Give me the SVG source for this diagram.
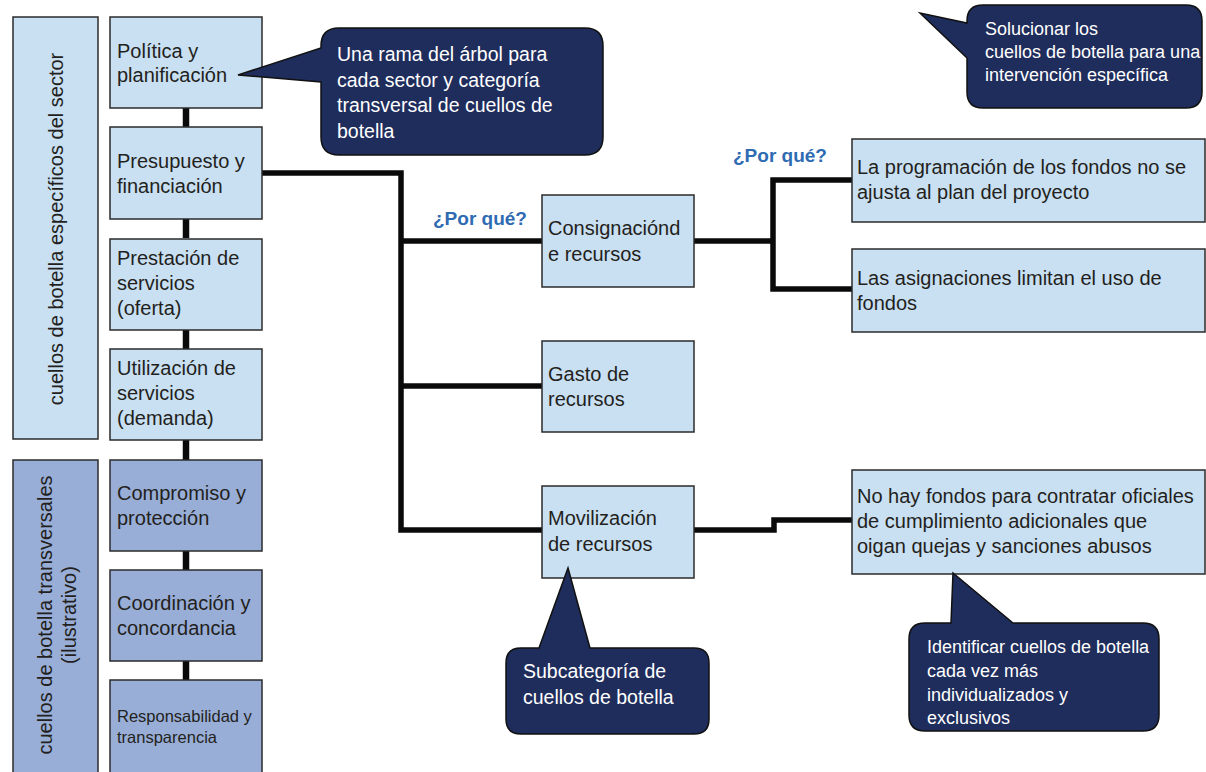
<svg xmlns="http://www.w3.org/2000/svg" width="1206" height="772" viewBox="0 0 1206 772">
<style>
.lb{fill:#c9dff2;stroke:#2b2b2b;stroke-width:1.5}
.db{fill:#98aed7;stroke:#2b2b2b;stroke-width:1.5}
.co{fill:#1f2d5c;stroke:#111;stroke-width:1.5}
.t{font-family:"Liberation Sans",Arial,sans-serif;font-size:20px;fill:#231f20}
.w{font-family:"Liberation Sans",Arial,sans-serif;font-size:18px;fill:#ffffff}
.q{font-family:"Liberation Sans",Arial,sans-serif;font-size:19px;font-weight:bold;fill:#2e6bb3}
.ln{fill:none;stroke:#0a0a0a;stroke-width:5.5;stroke-linejoin:miter}
.cl{fill:none;stroke:#0a0a0a;stroke-width:6.5}
</style>
<rect width="1206" height="772" fill="#ffffff"/>

<g id="connectors">
<line class="cl" x1="186" y1="108" x2="186" y2="127"/>
<line class="cl" x1="186" y1="219" x2="186" y2="238"/>
<line class="cl" x1="186" y1="330" x2="186" y2="349"/>
<line class="cl" x1="186" y1="440" x2="186" y2="460"/>
<line class="cl" x1="186" y1="551" x2="186" y2="570"/>
<line class="cl" x1="186" y1="661" x2="186" y2="680"/>
<polyline class="ln" points="262,173 401,173 401,530 542,530"/>
<line class="ln" x1="401" y1="241" x2="542" y2="241"/>
<line class="ln" x1="401" y1="386" x2="542" y2="386"/>
<line class="ln" x1="694" y1="241" x2="773" y2="241"/>
<polyline class="ln" points="852,180 773,180 773,289 852,289"/>
<polyline class="ln" points="694,530 774,530 774,520 852,520"/>
</g>

<g id="grp-sector">
<rect class="lb" x="13" y="17" width="85" height="422"/>
<text class="t" transform="translate(63,229) rotate(-90)" text-anchor="middle">cuellos de botella específicos del sector</text>
</g>
<g id="grp-transversal">
<rect class="db" x="13" y="460" width="85" height="330"/>
<text class="t" transform="translate(52,615) rotate(-90)" text-anchor="middle">cuellos de botella transversales</text>
<text class="t" transform="translate(76,615) rotate(-90)" text-anchor="middle">(ilustrativo)</text>
</g>

<g id="n-politica">
<rect class="lb" x="110" y="17" width="152" height="91"/>
<text class="t" x="117" y="58">Política y</text>
<text class="t" x="117" y="82">planificación</text>
</g>
<g id="n-presupuesto">
<rect class="lb" x="110" y="127" width="152" height="92"/>
<text class="t" x="117" y="168">Presupuesto y</text>
<text class="t" x="117" y="193">financiación</text>
</g>
<g id="n-prestacion">
<rect class="lb" x="110" y="239" width="152" height="91"/>
<text class="t" x="117" y="265">Prestación de</text>
<text class="t" x="117" y="290">servicios</text>
<text class="t" x="117" y="315">(oferta)</text>
</g>
<g id="n-utilizacion">
<rect class="lb" x="110" y="349" width="152" height="91"/>
<text class="t" x="117" y="375">Utilización de</text>
<text class="t" x="117" y="400">servicios</text>
<text class="t" x="117" y="425">(demanda)</text>
</g>
<g id="n-compromiso">
<rect class="db" x="110" y="460" width="152" height="91"/>
<text class="t" x="117" y="500">Compromiso y</text>
<text class="t" x="117" y="525">protección</text>
</g>
<g id="n-coordinacion">
<rect class="db" x="110" y="570" width="152" height="91"/>
<text class="t" x="117" y="610">Coordinación y</text>
<text class="t" x="117" y="635">concordancia</text>
</g>
<g id="n-responsabilidad">
<rect class="db" x="110" y="680" width="152" height="110"/>
<text class="t" x="117" y="722" style="font-size:16.5px">Responsabilidad y</text>
<text class="t" x="117" y="743" style="font-size:16.5px">transparencia</text>
</g>

<g id="n-consignacion">
<rect class="lb" x="542" y="195" width="152" height="92"/>
<text class="t" x="548" y="235">Consignaciónd</text>
<text class="t" x="548" y="261">e recursos</text>
</g>
<g id="n-gasto">
<rect class="lb" x="542" y="341" width="152" height="91"/>
<text class="t" x="548" y="381">Gasto de</text>
<text class="t" x="548" y="406">recursos</text>
</g>
<g id="n-movilizacion">
<rect class="lb" x="542" y="486" width="152" height="92"/>
<text class="t" x="548" y="525">Movilización</text>
<text class="t" x="548" y="551">de recursos</text>
</g>

<g id="n-programacion">
<rect class="lb" x="852" y="139" width="353" height="83"/>
<text class="t" x="857" y="174">La programación de los fondos no se</text>
<text class="t" x="857" y="199">ajusta al plan del proyecto</text>
</g>
<g id="n-asignaciones">
<rect class="lb" x="852" y="249" width="353" height="83"/>
<text class="t" x="857" y="285">Las asignaciones limitan el uso de</text>
<text class="t" x="857" y="310">fondos</text>
</g>
<g id="n-nohay">
<rect class="lb" x="852" y="470" width="353" height="104"/>
<text class="t" x="857" y="503">No hay fondos para contratar oficiales</text>
<text class="t" x="857" y="528">de cumplimiento adicionales que</text>
<text class="t" x="857" y="553">oigan quejas y sanciones abusos</text>
</g>

<g id="labels">
<text class="q" x="433" y="225">¿Por qué?</text>
<text class="q" x="733" y="162">¿Por qué?</text>
</g>

<g id="callout-rama">
<path class="co" d="M339,28 H585 Q603,28 603,46 V137 Q603,155 585,155 H339 Q321,155 321,137 V82 L238,75 L321,48 V46 Q321,28 339,28 Z"/>
<text class="w" style="font-size:19.5px" x="337" y="61">Una rama del árbol para</text>
<text class="w" style="font-size:19.5px" x="337" y="87">cada sector y categoría</text>
<text class="w" style="font-size:19.5px" x="337" y="112">transversal de cuellos de</text>
<text class="w" style="font-size:19.5px" x="337" y="138">botella</text>
</g>
<g id="callout-solucionar">
<path class="co" d="M983,5 H1186 Q1202,5 1202,21 V92 Q1202,108 1186,108 H983 Q967,108 967,92 V58 L920,13 L967,23 V21 Q967,5 983,5 Z"/>
<text class="w" x="985" y="35">Solucionar los</text>
<text class="w" x="985" y="58">cuellos de botella para una</text>
<text class="w" x="985" y="81">intervención específica</text>
</g>
<g id="callout-subcategoria">
<path class="co" d="M521,648 H539 L568,568 L590,648 H694 Q709,648 709,663 V719 Q709,734 694,734 H521 Q506,734 506,719 V663 Q506,648 521,648 Z"/>
<text class="w" style="font-size:19.5px" x="523" y="678">Subcategoría de</text>
<text class="w" style="font-size:19.5px" x="523" y="704">cuellos de botella</text>
</g>
<g id="callout-identificar">
<path class="co" d="M925,623 H951 L953,573 L1013,623 H1143 Q1159,623 1159,639 V715 Q1159,731 1143,731 H925 Q909,731 909,715 V639 Q909,623 925,623 Z"/>
<text class="w" x="927" y="653">Identificar cuellos de botella</text>
<text class="w" x="927" y="677">cada vez más</text>
<text class="w" x="927" y="701">individualizados  y</text>
<text class="w" x="927" y="724">exclusivos</text>
</g>
</svg>
